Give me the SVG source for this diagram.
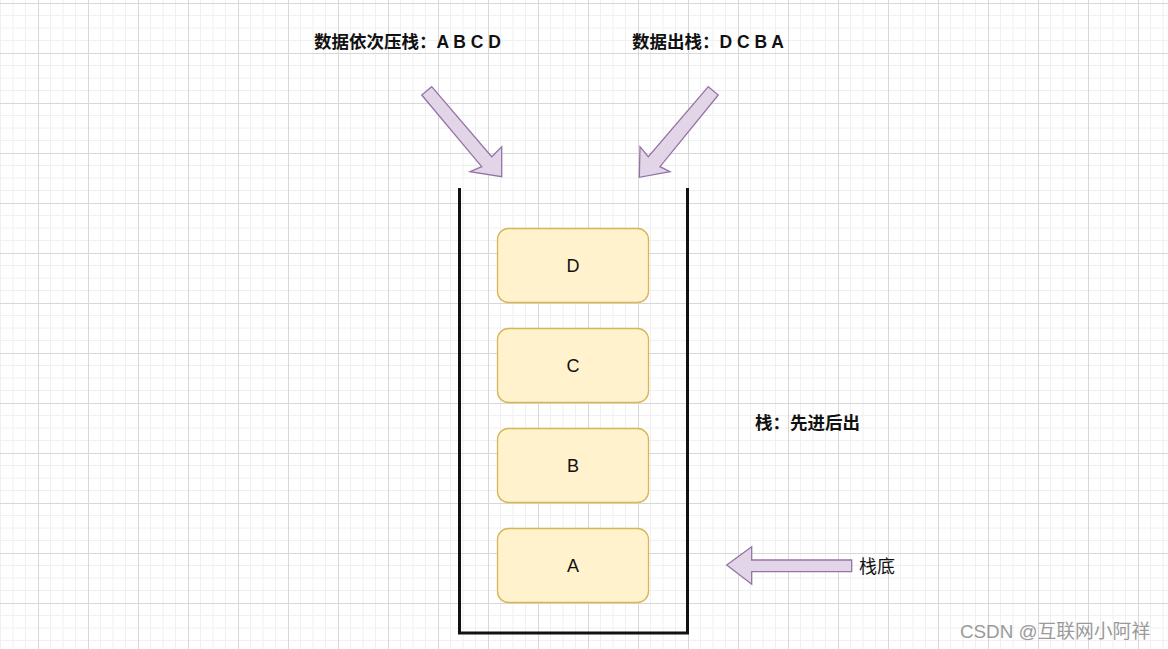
<svg xmlns="http://www.w3.org/2000/svg" width="1168" height="649" viewBox="0 0 1168 649">
<style>
.box{fill:#fff2cc;stroke:#d6b656;stroke-width:1.3}
.lbl{font-family:"Liberation Sans","Noto Sans CJK SC",sans-serif;font-size:18px;fill:#111;text-anchor:middle;dominant-baseline:central}
.arrow{fill:#e1d5e7;stroke:#9673a6;stroke-width:1.3}
.title{font-family:"Liberation Sans","Noto Sans CJK SC",sans-serif;font-size:17.5px;font-weight:bold;fill:#111;dominant-baseline:central}
.plain{font-family:"Liberation Sans","Noto Sans CJK SC",sans-serif;font-size:18px;fill:#111;dominant-baseline:central}
.wall{fill:none;stroke:#111;stroke-width:3}
</style>
<defs>
<pattern id="grid" x="38" y="3" width="50" height="50" patternUnits="userSpaceOnUse">
<path d="M12.5 0V50M25 0V50M37.5 0V50M0 12.5H50M0 25H50M0 37.5H50" stroke="#f0f0f0" stroke-width="1" fill="none"/>
<path d="M0.5 0V50M0 0.5H50" stroke="#d8d8d8" stroke-width="1" fill="none"/>
</pattern>
</defs>
<rect width="1168" height="649" fill="#ffffff"/>
<rect width="1168" height="649" fill="url(#grid)"/>

<g id="stack">
<path class="wall" d="M459.5 188V633H687.5V188"/>
</g>

<g id="nodeD"><rect class="box" x="497.5" y="228.5" width="151" height="74" rx="11"/><text class="lbl" x="573" y="266">D</text></g>
<g id="nodeC"><rect class="box" x="497.5" y="328.5" width="151" height="74" rx="11"/><text class="lbl" x="573" y="366">C</text></g>
<g id="nodeB"><rect class="box" x="497.5" y="428.5" width="151" height="74" rx="11"/><text class="lbl" x="573" y="466">B</text></g>
<g id="nodeA"><rect class="box" x="497.5" y="528.5" width="151" height="74" rx="11"/><text class="lbl" x="573" y="566">A</text></g>

<g id="connectors">
<polygon class="arrow" points="431.7,86.7 491.7,156.7 501.7,146.7 501.7,176.7 470,171.7 481.7,166.7 421.7,95"/>
<polygon class="arrow" points="708.3,86.7 718.3,95 660,166.7 670,171.7 639.3,177.3 640,146.7 648.3,156.7"/>
<polygon class="arrow" points="851.7,560 751.7,560 751.7,546.7 726.7,565 751.7,584.3 751.7,571.7 851.7,571.7"/>
</g>

<g id="labels">
<text class="title" x="314" y="42">数据依次压栈：A B C D</text>
<text class="title" x="632" y="42">数据出栈：D C B A</text>
<text class="title" x="755" y="423">栈：先进后出</text>
<text class="plain" x="859" y="567">栈底</text>
<text x="960" y="631" font-family="Liberation Sans,Noto Sans CJK SC,sans-serif" font-size="18.8px" fill="#9a9a9a" dominant-baseline="central">CSDN @互联网小阿祥</text>
</g>
</svg>
